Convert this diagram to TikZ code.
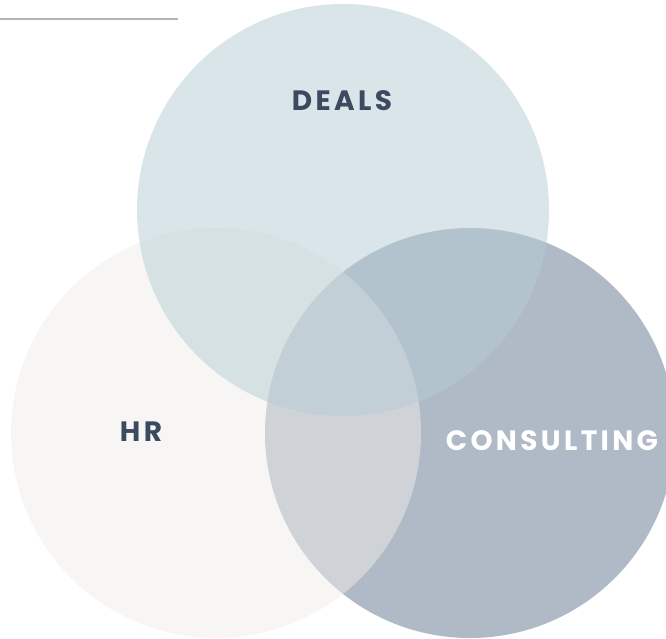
\documentclass[tikz,border=0pt]{standalone}
\usepackage{fontspec}
\setmainfont{Poppins}
\newfontfamily\lblfont[LetterSpace=12]{Poppins Bold}
\definecolor{dealsc}{HTML}{B8CDD6}
\definecolor{hrc}{HTML}{EFEDE9}
\definecolor{consc}{HTML}{AFBAC6}
\definecolor{txtc}{HTML}{3B4A5E}
\definecolor{rulec}{HTML}{B4B4B4}
\begin{document}
\begin{tikzpicture}[x=1pt,y=-1pt,
  lbl/.style={font=\lblfont\fontsize{28}{32}\selectfont, inner sep=0pt}]
\useasboundingbox (0,0) rectangle (666,639);
\begin{scope}
\clip (0,0) rectangle (666,639);
\fill[consc] (470,433) circle[radius=205];
\fill[hrc, fill opacity=0.5] (216,433) circle[radius=205];
\fill[dealsc, fill opacity=0.52] (343,210) circle[radius=206];
\end{scope}
\coordinate (ruleA) at (0,19);
\coordinate (ruleB) at (178,19);
\draw[rulec, line width=1.5] (ruleA) -- (ruleB);
\node[lbl, text=txtc] (deals) at (342,101) {DEALS};
\node[lbl, text=txtc] (hr) at (141,432) {HR};
\node[lbl, text=white] (cons) at (552,441) {CONSULTING};
\end{tikzpicture}
\end{document}
